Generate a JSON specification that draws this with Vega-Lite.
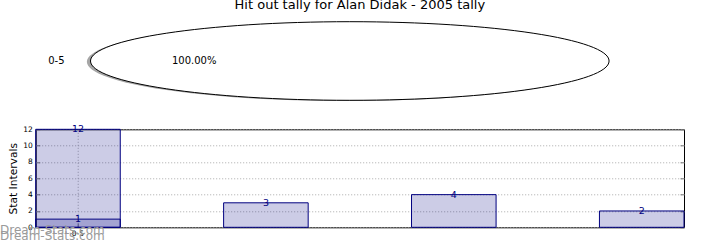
{
  "$schema": "https://vega.github.io/schema/vega-lite/v6.json",
  "padding": {"left": -1.3, "top": -1, "right": 36, "bottom": 0},
  "background": "white",
  "bounds": "flush",
  "spacing": 23.3,
  "title": {
    "text": "Hit out tally for Alan Didak - 2005 tally",
    "anchor": "middle",
    "frame": "group",
    "fontSize": 13,
    "fontWeight": "normal",
    "color": "black"
  },
  "config": {
    "font": "DejaVu Sans",
    "axis": {"labelColor": "black", "titleColor": "black"}
  },
  "vconcat": [
    {
      "width": 648.3,
      "height": 90,
      "view": {"stroke": null},
      "data": {"values": [{"interval": "0-5", "share": 1}]},
      "layer": [
        {
          "mark": {
            "type": "point",
            "shape": "M-1,0A1,0.1516,0,1,0,1,0A1,0.1516,0,1,0,-1,0Z",
            "size": 268946,
            "filled": true,
            "fill": "#a6a6a6",
            "strokeWidth": 0,
            "opacity": 1
          },
          "encoding": {
            "x": {"datum": -0.014, "type": "quantitative", "scale": {"domain": [-1.2113, 1.2889], "nice": false, "zero": false}, "axis": null},
            "y": {"datum": -0.02, "type": "quantitative", "scale": {"domain": [-1.145, 1.145], "nice": false, "zero": false}, "axis": null}
          }
        },
        {
          "mark": {
            "type": "point",
            "shape": "M-1,0A1,0.1516,0,1,0,1,0A1,0.1516,0,1,0,-1,0Z",
            "size": 268946,
            "filled": true,
            "fill": "white",
            "stroke": "black",
            "strokeWidth": 1,
            "opacity": 1
          },
          "encoding": {
            "x": {"datum": 0, "type": "quantitative"},
            "y": {"datum": 0, "type": "quantitative"}
          }
        },
        {
          "mark": {"type": "text", "align": "right", "baseline": "middle", "fontSize": 10, "color": "black"},
          "encoding": {
            "x": {"datum": -1.1, "type": "quantitative"},
            "y": {"datum": 0, "type": "quantitative"},
            "text": {"field": "interval"}
          }
        },
        {
          "mark": {"type": "text", "align": "center", "baseline": "middle", "fontSize": 10, "color": "black"},
          "encoding": {
            "x": {"datum": -0.6, "type": "quantitative"},
            "y": {"datum": 0, "type": "quantitative"},
            "text": {"field": "share", "format": ".2%"}
          }
        }
      ]
    },
    {
      "width": 648.3,
      "height": 98,
      "view": {"stroke": "black", "strokeWidth": 1},
      "title": {
        "text": ["Dream-Stats.com", "Dream-Stats.com"],
        "orient": "bottom",
        "anchor": "start",
        "frame": "group",
        "dx": -35.7,
        "offset": -12,
        "fontSize": 12,
        "fontWeight": "normal",
        "color": "#9a9a9a",
        "lineHeight": 6.5
      },
      "data": {
        "values": [
          {"slot": 0, "interval": "0-5", "count": 12},
          {"slot": 0, "interval": "0-5", "count": 1},
          {"slot": 1, "interval": "", "count": 3},
          {"slot": 2, "interval": "", "count": 4},
          {"slot": 3, "interval": "", "count": 2}
        ]
      },
      "resolve": {"axis": {"y": "independent"}},
      "encoding": {
        "x": {
          "field": "slot",
          "type": "ordinal",
          "scale": {"paddingInner": 0.55, "paddingOuter": 0},
          "axis": {
            "values": [0],
            "labelExpr": "'0-5'",
            "title": null,
            "labelAngle": 0,
            "labelFontSize": 7.5,
            "labelPadding": 6,
            "tickSize": -4,
            "tickColor": "#777",
            "domain": false,
            "grid": true,
            "gridDash": [1, 2],
            "gridColor": "#aaa"
          }
        },
        "y": {
          "field": "count",
          "type": "quantitative",
          "stack": null,
          "scale": {"domain": [0, 12], "nice": false}
        }
      },
      "layer": [
        {
          "mark": {"type": "bar", "fill": "#000080", "fillOpacity": 0.2, "stroke": "#000080", "strokeWidth": 1},
          "encoding": {
            "y": {
              "field": "count",
              "type": "quantitative",
              "stack": null,
              "axis": {
                "orient": "left",
                "values": [0, 2, 4, 6, 8, 10, 12],
                "title": "Stat Intervals",
                "titleFontSize": 10.7,
                "titleFontWeight": "normal",
                "titlePadding": 4.5,
                "labelFontSize": 7.5,
                "labelPadding": 7.5,
                "tickSize": -4,
                "tickColor": "#777",
                "domain": false,
                "grid": true,
                "gridDash": [1, 2],
                "gridColor": "#aaa"
              }
            }
          }
        },
        {
          "mark": {"type": "text", "color": "#000080", "fontSize": 9.5, "baseline": "middle"},
          "encoding": {
            "text": {"field": "count"},
            "y": {
              "field": "count",
              "type": "quantitative",
              "stack": null,
              "axis": {
                "orient": "right",
                "values": [0, 2, 4, 6, 8, 10, 12],
                "labels": false,
                "title": null,
                "grid": false,
                "domain": false,
                "tickSize": -4,
                "tickColor": "#777"
              }
            }
          }
        }
      ]
    }
  ]
}
